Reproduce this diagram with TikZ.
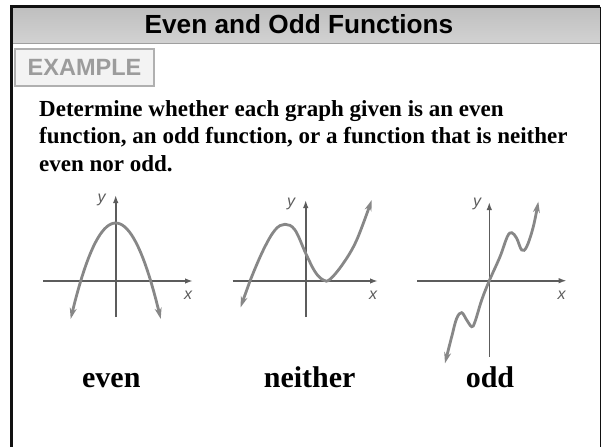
\documentclass[tikz,border=0pt]{standalone}
\usepackage{fontspec}
\setmainfont{Liberation Serif}
\setsansfont{Liberation Sans}
\usetikzlibrary{arrows.meta}
\definecolor{cFrame}{HTML}{111111}
\definecolor{cBar}{HTML}{D2D2D2}
\definecolor{cBarTop}{HTML}{BEBEBE}
\definecolor{cTag}{HTML}{9C9C9C}
\definecolor{cTagFill}{HTML}{F3F3F3}
\definecolor{cAxis}{HTML}{5C5C5C}
\definecolor{cCurve}{HTML}{878787}
\tikzset{
  axisline/.style={-{Latex[length=8pt,width=5.5pt]}, line width=1.6pt, draw=cAxis},
  curveline/.style={{Stealth[length=11pt,width=7pt]}-{Stealth[length=11pt,width=7pt]}, line width=2.8pt, draw=cCurve},
  axlbl/.style={font=\sffamily\itshape\fontsize{16}{16}\selectfont, text=cAxis, inner sep=0pt},
  answer/.style={font=\bfseries\fontsize{30}{30}\selectfont, inner sep=0pt, anchor=base},
  tagbox/.style={draw=cTag!80, line width=1.5pt, fill=cTagFill, minimum width=139pt, minimum height=37pt,
    font=\sffamily\bfseries\fontsize{23.5}{23.5}\selectfont, text=cTag},
}

\begin{document}
\begin{tikzpicture}[x=1pt,y=-1pt]
        \useasboundingbox (0,0) rectangle (603,447);
        % title bar and frame
        \fill[top color=cBarTop, bottom color=cBar] (12,6) rectangle (600,43);
        \draw[gray!75, line width=1pt] (12,43.5) -- (600,43.5);
        \draw[cFrame, line width=2.5pt] (11.5,447) -- (11.5,6.5) -- (600,6.5);
        \draw[cFrame, line width=1.2pt] (600.4,6.5) -- (600.4,447);
        \node[font=\sffamily\bfseries\fontsize{26.2}{26.2}\selectfont, inner sep=0pt, anchor=base] (title) at (299,34) {Even and Odd Functions};
        \node[tagbox] (tag) at (84.5,67.5) {EXAMPLE};
        \node[font=\bfseries\fontsize{23}{27.5}\selectfont, inner sep=0pt, anchor=base west, align=left] (task) at (39,171)
          {Determine whether each graph given is an even\\function, an odd function, or a function that is neither\\even nor odd.};

        % even
        \coordinate (e-xl) at (43,281);   \coordinate (e-xr) at (193,281);
        \coordinate (e-yb) at (115.7,317); \coordinate (e-yt) at (115.7,195);
        \draw[axisline] (e-xl) -- (e-xr);
        \draw[axisline] (e-yb) -- (e-yt);
        \draw[curveline] plot[domain=-45:45, samples=41] ({115.7+\x},{223+58*(\x/35)^2});
        \node[axlbl] (e-y) at (101.7,200) {y};
        \node[axlbl] (e-x) at (188,295) {x};
        \node[answer] (even) at (111.3,387) {even};

        % neither
        \coordinate (n-xl) at (232.7,281); \coordinate (n-xr) at (378,281);
        \coordinate (n-yb) at (305.7,317); \coordinate (n-yt) at (305.7,200);
        \draw[axisline] (n-xl) -- (n-xr);
        \draw[axisline] (n-yb) -- (n-yt);
        \draw[curveline] plot[smooth, tension=0.6] coordinates {(240.7,307.3) (250,281) (263.3,250) (275,230) (285,224.3)
          (295,230) (305.7,253.3) (315,271.7) (323.3,280) (330,279.3) (343.3,263.3) (356.7,240) (371.7,200)};
        \node[axlbl] (n-y) at (291,204) {y};
        \node[axlbl] (n-x) at (373,295) {x};
        \node[answer] (neither) at (309.7,387) {neither};

        % odd
        \coordinate (o-xl) at (417,280.7);   \coordinate (o-xr) at (566.7,280.7);
        \coordinate (o-yb) at (489.3,356.7); \coordinate (o-yt) at (489.3,202);
        \draw[axisline] (o-xl) -- (o-xr);
        \draw[axisline] (o-yb) -- (o-yt);
        \draw[curveline] plot[smooth, tension=0.6] coordinates {(445,363.3) (451.7,336.7) (456.7,318.3) (461.7,312.7)
          (466.7,320) (471.7,326.7) (475,321.7) (481.7,300) (489.3,280.7) (500,256.7) (507.3,236.7) (511.7,232.7)
          (516.7,238.3) (521.7,250) (526.7,246.7) (533.3,226.7) (538.3,201.7)};
        \node[axlbl] (o-y) at (477,204) {y};
        \node[axlbl] (o-x) at (561.7,295) {x};
        \node[answer] (odd) at (490,387) {odd};
\end{tikzpicture}
\end{document}
